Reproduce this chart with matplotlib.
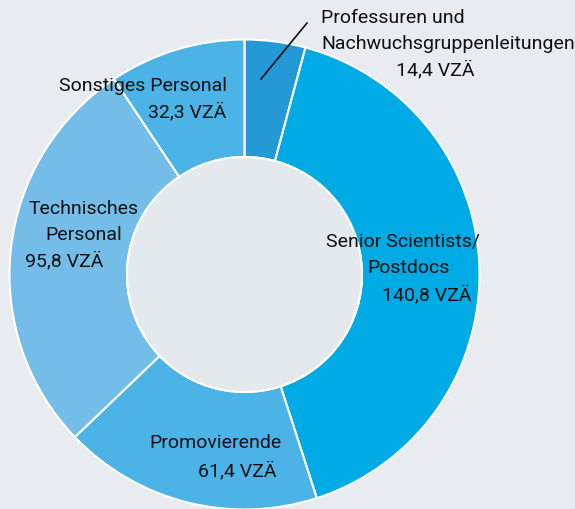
import matplotlib.pyplot as plt
from matplotlib.patches import Circle

# Personal in VZÄ, clockwise from the top
categories = ['Professuren und Nachwuchsgruppenleitungen', 'Senior Scientists/ Postdocs',
              'Promovierende', 'Technisches Personal', 'Sonstiges Personal']
values = [14.4, 140.8, 61.4, 95.8, 32.3]
colors = ['#2499d6', '#00aae4', '#4bb3e6', '#75bde9', '#4cb3e6']

plt.rcParams['font.family'] = ['Roboto', 'DejaVu Sans']

fig = plt.figure(figsize=(5.75, 5.1), dpi=100, facecolor='#e8ecf0')
# axes placed so the ring centre sits at (244.5, 275.5) px with radius 235 px
ax = fig.add_axes([(244.5 - 235) / 575, (510 - 275.5 - 235) / 510, 470 / 575, 470 / 510])
ax.set_facecolor('#e8ecf0')

ax.pie(values, colors=colors, startangle=90, counterclock=False, radius=1.0,
       wedgeprops=dict(width=0.5, edgecolor='white', linewidth=1.5))
ax.add_patch(Circle((0, 0), 0.5, facecolor='#e4e9ed', edgecolor='white', linewidth=1.5, zorder=3))
ax.set_xlim(-1, 1)
ax.set_ylim(-1, 1)
ax.set_aspect('equal')
ax.axis('off')

fs = 14
def px(x, y):
    return x / 575, 1 - y / 510

def label(x, y, s, ha='left'):
    fig.text(*px(x, y), s, ha=ha, va='center', fontsize=fs, color='#111111')

label(321, 18, 'Professuren und')
label(321, 44, 'Nachwuchsgruppenleitungen')
label(435, 70, '14,4 VZÄ', ha='center')
fig.add_artist(plt.Line2D([307 / 575, 261 / 575], [1 - 24 / 510, 1 - 80 / 510],
                          color='#111111', linewidth=1.2))

label(480, 242, 'Senior Scientists/', ha='right')
label(367, 268, 'Postdocs')
label(472, 295, '140,8 VZÄ', ha='right')

label(282, 443, 'Promovierende', ha='right')
label(277, 471, '61,4 VZÄ', ha='right')

label(84, 209, 'Technisches', ha='center')
label(84, 235, 'Personal', ha='center')
label(25, 261, '95,8 VZÄ')

label(227, 86, 'Sonstiges Personal', ha='right')
label(226, 112, '32,3 VZÄ', ha='right')

fig.savefig('out.png', dpi=100, facecolor=fig.get_facecolor())
